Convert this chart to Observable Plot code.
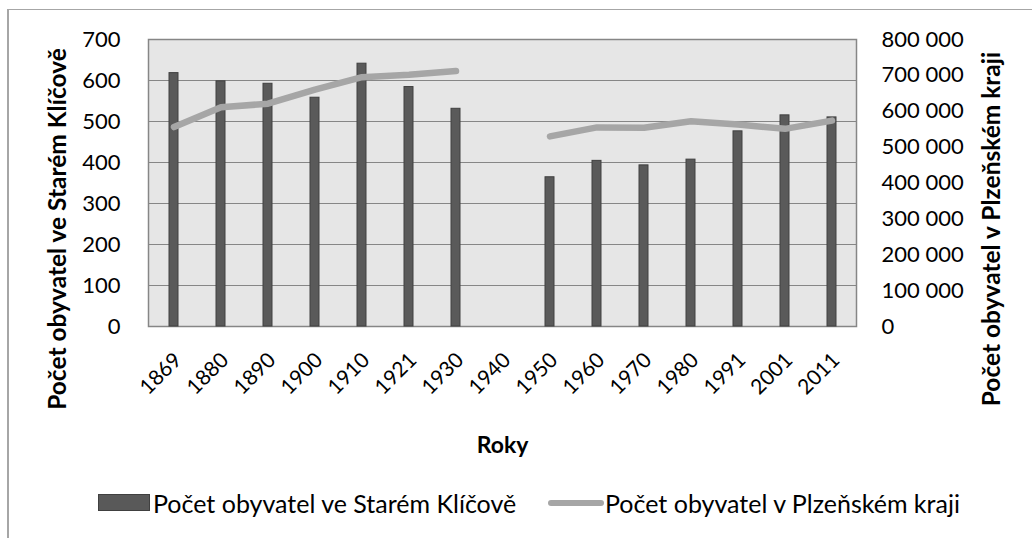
<!DOCTYPE html>
<html>
<head>
<meta charset="utf-8">
<script src="https://cdn.jsdelivr.net/npm/d3@7"></script>
<script src="https://cdn.jsdelivr.net/npm/@observablehq/plot@0.6"></script>
<style>
  html, body { margin: 0; padding: 0; background: #fff; }
  body { width: 1032px; height: 538px; overflow: hidden; position: relative; font-family: Lato, "Open Sans", sans-serif; }
  #frame { position: absolute; left: 7px; top: 9px; width: 1100px; height: 600px; border-left: 2px solid #a6a6a6; border-top: 1px solid #a6a6a6; }
  #chart { position: absolute; left: 0; top: 0; }
  #legend { position: absolute; left: 0; top: 488px; width: 1032px; height: 30px; font-size: 25px; color: #000; }
  .sw { position: absolute; }
  .lt { position: absolute; top: 0; line-height: 30px; white-space: nowrap; }
</style>
</head>
<body>
<div id="frame"></div>
<div id="chart"></div>
<div id="legend">
  <div class="sw" style="left:98px; top:6px; width:52px; height:17px; background:#595959; border:1px solid #404040; box-sizing:border-box;"></div>
  <div class="lt" id="lt1" style="left:153px;">Počet obyvatel ve Starém Klíčově</div>
  <div class="sw" style="left:548px; top:12px; width:56px; height:6px; background:#a6a6a6; border-radius:3px;"></div>
  <div class="lt" id="lt2" style="left:605px;">Počet obyvatel v Plzeňském kraji</div>
</div>
<script>
const years = ["1869","1880","1890","1900","1910","1921","1930","1940","1950","1960","1970","1980","1991","2001","2011"];
const villagePop = [618, 598, 592, 558, 641, 584, 531, null, 364, 404, 393, 407, 476, 515, 510];
const regionPop = [556000, 611000, 621000, 660000, 695000, 702000, 712000, null, 530000, 555000, 554000, 572000, 563000, 551000, 574000];
const leftTicks = [0, 100, 200, 300, 400, 500, 600, 700];
const rightTicks = [0, 100000, 200000, 300000, 400000, 500000, 600000, 700000, 800000];
const leftTitle = "Počet obyvatel ve Starém Klíčově";
const rightTitle = "Počet obyvatel v Plzeňském kraji";
const xTitle = "Roky";

const leftMax = 700, rightMax = 800000;
const toLeft = v => v == null ? null : v * leftMax / rightMax;
const fmtSpace = v => d3.format(",")(v).replace(/,/g, " ");

const bars = years.map((y, i) => ({year: y, v: villagePop[i]})).filter(d => d.v != null);
const line = years.map((y, i) => ({year: y, v: toLeft(regionPop[i])}));

const font = "Lato, 'Open Sans', sans-serif";
const chart = Plot.plot({
  width: 1032,
  height: 480,
  marginLeft: 148,
  marginRight: 176,
  marginTop: 39,
  marginBottom: 154,
  style: {fontFamily: font, fontSize: "22px", color: "#000", background: "transparent"},
  x: {type: "band", domain: years, padding: 0},
  y: {domain: [0, leftMax]},
  marks: [
    Plot.frame({fill: "#e6e6e6"}),
    Plot.gridY(leftTicks, {stroke: "#868686", strokeOpacity: 1, strokeWidth: 1}),
    Plot.frame({stroke: "#868686", strokeWidth: 1.5}),
    Plot.barY(bars, {x: "year", y: "v", fill: "#5a5a5a", stroke: "#404040", strokeWidth: 1, insetLeft: 19, insetRight: 19}),
    Plot.line(line, {x: "year", y: "v", stroke: "#a6a6a6", strokeWidth: 6.5, strokeLinecap: "round", strokeLinejoin: "round"}),
    Plot.axisY(leftTicks, {anchor: "left", tickSize: 0, tickPadding: 28, label: null, fontSize: 22}),
    Plot.axisY(rightTicks.map(toLeft), {anchor: "right", tickSize: 0, tickPadding: 25, label: null, fontSize: 22, tickFormat: d => fmtSpace(Math.round(d * rightMax / leftMax / 1000) * 1000)}),
    Plot.axisX({anchor: "bottom", tickSize: 0, tickPadding: 30, tickRotate: -45, label: null, fontSize: 21, dx: 4}),
    Plot.text([leftTitle], {frameAnchor: "left", textAnchor: "middle", dx: -90, dy: 46, rotate: -90, fontWeight: "bold", fontSize: 24.5, fill: "#000"}),
    Plot.text([rightTitle], {frameAnchor: "right", textAnchor: "middle", dx: 136, dy: 46, rotate: -90, fontWeight: "bold", fontSize: 24.5, fill: "#000"}),
    Plot.text([xTitle], {frameAnchor: "bottom", textAnchor: "middle", dy: 126, fontWeight: "bold", fontSize: 23, fill: "#000"})
  ]
});
document.getElementById("chart").appendChild(chart);
</script>
</body>
</html>
